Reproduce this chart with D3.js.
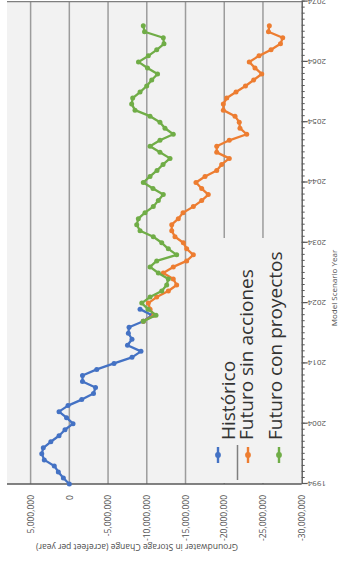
<!DOCTYPE html>
<html>
<head>
<meta charset="utf-8">
<script src="https://cdn.jsdelivr.net/npm/d3@7"></script>
<style>
  html, body { margin: 0; padding: 0; background: #ffffff; }
  svg { display: block; }
  text { font-family: "Open Sans", "DejaVu Sans", sans-serif; }
</style>
</head>
<body>
<svg id="chart" width="341" height="567"></svg>
<script>
// ---------------- DATA ----------------
const histYears = [1994,1995,1996,1997,1998,1999,2000,2001,2002,2003,2004,2005,2006,2007,2008,2009,2010,2011,2012,2013,2014,2015,2016,2017,2018,2019,2020,2021,2022,2023];
const histValues = [0.0,0.77,1.42,1.94,3.23,3.56,3.36,2.39,1.33,0.56,-0.48,0.36,1.33,0.17,-1.60,-3.12,-3.38,-1.70,-1.70,-3.54,-5.77,-8.09,-9.25,-7.51,-8.09,-7.62,-7.71,-9.55,-10.67,-9.13].map(v => v * 1e6);

const futYears = [2021,2022,2023,2024,2025,2026,2027,2028,2029,2030,2031,2032,2033,2034,2035,2036,2037,2038,2039,2040,2041,2042,2043,2044,2045,2046,2047,2048,2049,2050,2051,2052,2053,2054,2055,2056,2057,2058,2059,2060,2061,2062,2063,2064,2065,2066,2067,2068,2069,2070];
const noActionValues = [-9.55,-10.93,-10.42,-10.20,-11.28,-12.78,-13.86,-13.42,-12.13,-13.42,-15.15,-16.01,-15.15,-14.72,-13.64,-13.22,-13.22,-14.07,-14.68,-16.01,-17.09,-17.94,-17.09,-16.35,-17.52,-19.03,-19.67,-20.65,-19.03,-19.03,-20.65,-22.90,-22.03,-21.94,-21.39,-19.88,-19.88,-20.32,-21.52,-22.74,-23.80,-24.84,-23.97,-23.23,-24.49,-26.04,-27.26,-27.55,-25.71,-25.82].map(v => v * 1e6);
const projectValues = [-9.55,-11.19,-10.16,-9.35,-10.42,-11.93,-12.57,-12.78,-11.49,-10.42,-11.28,-13.86,-12.78,-11.93,-10.84,-9.13,-8.70,-8.91,-9.77,-10.84,-11.49,-12.13,-10.80,-9.55,-10.42,-11.32,-12.10,-13.00,-11.70,-10.42,-11.70,-13.42,-12.35,-11.70,-10.42,-8.48,-8.05,-8.18,-9.13,-9.99,-10.64,-11.39,-10.09,-8.93,-10.20,-11.28,-12.22,-12.13,-9.71,-9.55].map(v => v * 1e6);

const valueTicks = [5e6, 0, -5e6, -10e6, -15e6, -20e6, -25e6, -30e6];
const yearTicks = [1994, 2004, 2014, 2024, 2034, 2044, 2054, 2064, 2074];
const seriesNames = ["Histórico", "Futuro sin acciones", "Futuro con proyectos"];
const seriesColors = ["#4472c4", "#ed7d31", "#70ad47"];
const yTitle = "Groundwater in Storage Change  (acrefeet per year)";
const xTitle = "Model Scenario Year";

// ---------------- LAYOUT (chart drawn unrotated, then turned 90° CCW) ----------------
const W = 567, H = 341;
const svg = d3.select("#chart");
const g = svg.append("g").attr("transform", `translate(0,${W}) rotate(-90)`);

const x0 = 83, x1 = 565.4, yTop = 7, yBot = 301.7;
const x = d3.scaleLinear().domain([1994, 2074]).range([x0, x1]);
const y = d3.scaleLinear().domain([5e6, -30e6]).range([30.6, 301.7]);

// plot background
g.append("rect").attr("x", x0).attr("y", yTop).attr("width", x1 - x0).attr("height", yBot - yTop)
  .attr("fill", "#f2f2f2");

// gridlines
g.append("g").selectAll("line").data(valueTicks.filter(v => v > -30e6)).join("line")
  .attr("x1", x0).attr("x2", x1).attr("y1", d => y(d)).attr("y2", d => y(d))
  .attr("stroke", "#9c9c9c").attr("stroke-width", 1.5);

// top border (right side of original plot)
g.append("line").attr("x1", x1).attr("x2", x1).attr("y1", yTop).attr("y2", yBot)
  .attr("stroke", "#7f7f7f").attr("stroke-width", 1.2);

// value axis
const fmt = d => d3.format(",")(d).replace("\u2212", "-");
const yAxis = g.append("g").attr("transform", `translate(${x0},0)`)
  .call(d3.axisLeft(y).tickValues(valueTicks).tickSize(0).tickPadding(11).tickFormat(fmt));
yAxis.select(".domain").remove();
g.append("line").attr("x1", x0).attr("x2", x0).attr("y1", yTop).attr("y2", yBot)
  .attr("stroke", "#595959").attr("stroke-width", 1.4);
yAxis.selectAll("text").attr("fill", "#4d4d4d").style("font-size", "8.5px");

// year axis: minor ticks
const minorYears = [];
for (let yr = 1994; yr <= 2074; yr++) minorYears.push(yr);
g.append("g").attr("transform", `translate(0,${yBot})`)
  .call(d3.axisBottom(x).tickValues(minorYears).tickSize(3).tickFormat(""))
  .call(a => a.select(".domain").remove())
  .selectAll("line").attr("stroke", "#595959").attr("stroke-width", 1);

const xAxis = g.append("g").attr("transform", `translate(0,${yBot})`)
  .call(d3.axisBottom(x).tickValues(yearTicks).tickSize(6).tickSizeOuter(0).tickFormat(d3.format("d")));
xAxis.select(".domain").attr("stroke", "#595959").attr("stroke-width", 1.4);
xAxis.selectAll("line").attr("stroke", "#595959").attr("stroke-width", 1.2);
xAxis.selectAll("text")
  .attr("transform", "rotate(-90)")
  .attr("x", -6).attr("y", 0).attr("dy", "0.32em")
  .style("text-anchor", "end").style("font-size", "8px").attr("fill", "#4d4d4d");

// axis titles
g.append("text").attr("transform", `translate(21,137) rotate(-90)`)
  .attr("text-anchor", "middle").attr("dominant-baseline", "middle")
  .style("font-size", "8.5px").attr("fill", "#4d4d4d").text(yTitle);
g.append("text").attr("x", 279).attr("y", 335)
  .attr("text-anchor", "middle").attr("dominant-baseline", "middle")
  .style("font-size", "8px").attr("fill", "#4d4d4d").text(xTitle);

// series
const series = [
  { name: seriesNames[0], color: seriesColors[0], data: histYears.map((yr, i) => [yr, histValues[i]]) },
  { name: seriesNames[1], color: seriesColors[1], data: futYears.map((yr, i) => [yr, noActionValues[i]]) },
  { name: seriesNames[2], color: seriesColors[2], data: futYears.map((yr, i) => [yr, projectValues[i]]) }
];
const line = d3.line().x(d => x(d[0])).y(d => y(d[1]));
series.forEach(s => {
  const sg = g.append("g");
  sg.append("path").datum(s.data).attr("d", line)
    .attr("fill", "none").attr("stroke", s.color).attr("stroke-width", 2.3).attr("stroke-linejoin", "round");
  sg.selectAll("circle").data(s.data).join("circle")
    .attr("cx", d => x(d[0])).attr("cy", d => y(d[1])).attr("r", 2.5).attr("fill", s.color);
});

// legend
const lg = g.append("g");
lg.append("rect").attr("x", 84).attr("y", 206).attr("width", 329 - 84).attr("height", 292 - 206).attr("fill", "#f2f2f2");
lg.append("line").attr("x1", 87).attr("x2", 122).attr("y1", 237.5).attr("y2", 237.5)
  .attr("stroke", "#7f7f7f").attr("stroke-width", 1.5);
const markerY = [218, 248, 279];
const textBase = [235, 253, 282];
seriesNames.forEach((n, i) => {
  lg.append("line").attr("x1", 104).attr("x2", 120).attr("y1", markerY[i]).attr("y2", markerY[i])
    .attr("stroke", seriesColors[i]).attr("stroke-width", 2.4);
  lg.append("circle").attr("cx", 112).attr("cy", markerY[i]).attr("r", 2.9).attr("fill", seriesColors[i]);
  lg.append("text").attr("x", 127).attr("y", textBase[i])
    .style("font-size", "19px").attr("fill", "#333333").text(n);
});
</script>
</body>
</html>
